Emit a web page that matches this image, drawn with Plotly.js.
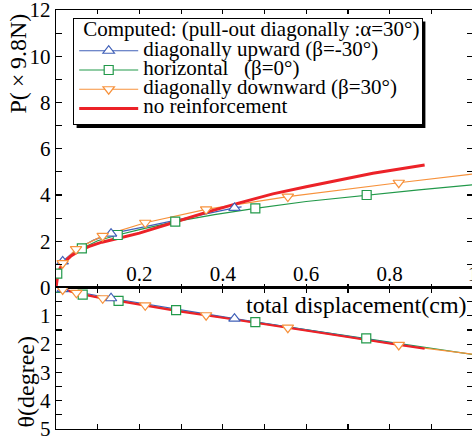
<!DOCTYPE html>
<html><head><meta charset="utf-8">
<script src="https://cdn.plot.ly/plotly-3.0.1.min.js"></script>
<style>html,body{margin:0;padding:0;overflow:hidden;background:#fff}#chart{width:474px;height:438px}</style>
</head><body><div id="chart"></div>
<script>
// ---------- data ----------
// top panel: pull-out load P (x9.8N) vs total displacement (cm)
const dispRedP = [0, 0.004, 0.01, 0.02, 0.035, 0.055, 0.08, 0.11, 0.15, 0.2, 0.28, 0.36, 0.44, 0.52, 0.6, 0.68, 0.76, 0.884];
const pRed     = [0, 0.5, 0.85, 1.1, 1.35, 1.58, 1.78, 1.96, 2.13, 2.35, 2.8, 3.25, 3.66, 4.05, 4.36, 4.65, 4.94, 5.30];
const dispBlueP = [0, 0.004, 0.016, 0.05, 0.09, 0.132, 0.2, 0.3, 0.428, 0.445];
const pBlue     = [0, 0.55, 1.13, 1.65, 2.05, 2.33, 2.58, 2.97, 3.44, 3.49];
const dispBlueMkP = [0.016, 0.132, 0.428];
const pBlueMk     = [1.13, 2.33, 3.44];
const dispGreenP = [0, 0.003, 0.02, 0.062, 0.1, 0.148, 0.2, 0.286, 0.38, 0.478, 0.6, 0.745, 0.87, 1.0];
const pGreen     = [0, 0.6, 1.15, 1.69, 2.02, 2.27, 2.5, 2.85, 3.15, 3.42, 3.72, 4.0, 4.22, 4.44];
const dispGreenMkP = [0.003, 0.062, 0.148, 0.286, 0.478, 0.745];
const pGreenMk     = [0.6, 1.69, 2.27, 2.85, 3.42, 4.0];
const dispOrangeP = [0, 0.004, 0.016, 0.048, 0.112, 0.214, 0.36, 0.556, 0.822, 1.0];
const pOrange     = [0, 0.55, 1.05, 1.66, 2.23, 2.80, 3.38, 3.93, 4.53, 4.91];
const dispOrangeMkP = [0.016, 0.048, 0.112, 0.214, 0.36, 0.556, 0.822];
const pOrangeMk     = [1.05, 1.66, 2.23, 2.80, 3.38, 3.93, 4.53];

// bottom panel: rotation angle theta (degree) vs total displacement (cm)
const dispRedT = [0, 0.02, 0.05, 0.1, 0.2, 0.3, 0.4, 0.5, 0.6, 0.7, 0.8, 0.884];
const tRed     = [0, 0.09, 0.2, 0.35, 0.6, 0.85, 1.07, 1.29, 1.52, 1.75, 1.98, 2.16];
const dispBlueT = [0, 0.016, 0.132, 0.428, 0.884];
const tBlue     = [0, 0.06, 0.38, 1.1, 2.14];
const dispBlueMkT = [0.016, 0.132, 0.428];
const tBlueMk     = [0.06, 0.38, 1.1];
const dispGreenT = [0, 0.003, 0.064, 0.15, 0.288, 0.478, 0.744, 1.0];
const tGreen     = [0, 0.01, 0.25, 0.47, 0.8, 1.22, 1.8, 2.37];
const dispGreenMkT = [0.003, 0.064, 0.15, 0.288, 0.478, 0.744];
const tGreenMk     = [0.01, 0.25, 0.47, 0.8, 1.22, 1.8];
const dispOrangeT = [0, 0.016, 0.049, 0.112, 0.214, 0.36, 0.556, 0.822, 1.0];
const tOrange     = [0, 0.07, 0.19, 0.38, 0.63, 0.98, 1.42, 2.03, 2.36];
const dispOrangeMkT = [0.016, 0.049, 0.112, 0.214, 0.36, 0.556, 0.822];
const tOrangeMk     = [0.07, 0.19, 0.38, 0.63, 0.98, 1.42, 2.03];

// tick labels and texts
const xTickVals = [0, 0.1, 0.2, 0.3, 0.4, 0.5, 0.6, 0.7, 0.8, 0.9, 1.0];
const xTickText = ['', '', '0.2', '', '0.4', '', '0.6', '', '0.8', '', '1'];
const pTickVals = [0, 1, 2, 3, 4, 5, 6, 7, 8, 9, 10, 11, 12];
const pTickText = ['0', '', '2', '', '4', '', '6', '', '8', '', '10', '', '12'];
const tTickVals = [0, 0.5, 1, 1.5, 2, 2.5, 3, 3.5, 4, 4.5, 5];
const tTickText = ['', '', '1', '', '2', '', '3', '', '4', '', '5'];
const legendTitle = '\u2004Computed: (pull-out diagonally :α=30°)';
const names = ['diagonally upward (β=-30°)', 'horizontal\u2002 (β=0°)', 'diagonally downward (β=30°)', 'no reinforcement'];

// ---------- styling ----------
const FONT = 'Liberation Serif';
const BLUE = '#4060b8', GREEN = '#22994a', ORANGE = '#f7923c', RED = '#ec2228';
const THIN = 1.2, THICK = 3;
const TRI = 10, SQ = 9;
const LEGFS = '21px';
const span = t => '<span style="font-size:' + LEGFS + '">' + t + '</span>';
function lineTr(x, y, color, w, xa, ya) {
  return {x: x, y: y, xaxis: xa, yaxis: ya, mode: 'lines', line: {color: color, width: w}, showlegend: false, hoverinfo: 'skip'};
}
function mkTr(x, y, color, sym, size, xa, ya) {
  return {x: x, y: y, xaxis: xa, yaxis: ya, mode: 'markers',
          marker: {symbol: sym, size: size, color: '#fff', line: {color: color, width: THIN}}, showlegend: false, hoverinfo: 'skip'};
}
function legTr(name, color, sym, size, w) {
  const t = {x: [null], y: [null], xaxis: 'x', yaxis: 'y', name: span(name),
             mode: sym ? 'lines+markers' : 'lines', line: {color: color, width: w}, showlegend: true};
  if (sym) t.marker = {symbol: sym, size: size, color: '#fff', line: {color: color, width: THIN}};
  return t;
}
const traces = [
  lineTr(dispGreenP, pGreen, GREEN, THIN, 'x', 'y'),
  lineTr(dispBlueP, pBlue, BLUE, THIN, 'x', 'y'),
  lineTr(dispOrangeP, pOrange, ORANGE, THIN, 'x', 'y'),
  lineTr(dispRedP, pRed, RED, THICK, 'x', 'y'),
  lineTr(dispGreenT, tGreen, GREEN, THIN, 'x2', 'y2'),
  lineTr(dispBlueT, tBlue, BLUE, THIN, 'x2', 'y2'),
  lineTr(dispOrangeT, tOrange, ORANGE, THIN, 'x2', 'y2'),
  lineTr(dispRedT, tRed, RED, 2.2, 'x2', 'y2'),
  mkTr(dispGreenMkP, pGreenMk, GREEN, 'square', SQ, 'x', 'y'),
  mkTr(dispBlueMkP, pBlueMk, BLUE, 'triangle-up', TRI, 'x', 'y'),
  mkTr(dispOrangeMkP, pOrangeMk, ORANGE, 'triangle-down', TRI, 'x', 'y'),
  mkTr(dispGreenMkT, tGreenMk, GREEN, 'square', SQ, 'x2', 'y2'),
  mkTr(dispBlueMkT, tBlueMk, BLUE, 'triangle-up', TRI, 'x2', 'y2'),
  mkTr(dispOrangeMkT, tOrangeMk, ORANGE, 'triangle-down', TRI, 'x2', 'y2'),
  legTr(names[0], BLUE, 'triangle-up', TRI, THIN),
  legTr(names[1], GREEN, 'square', SQ, THIN),
  legTr(names[2], ORANGE, 'triangle-down', TRI, THIN),
  legTr(names[3], RED, null, 0, THICK)
];

// pixel geometry (plot area x 56..473, y 10..429)
const L = 56, T = 10, W = 417, H = 419;
const px = v => (v - L) / W;
const py = v => (T + H - v) / H;
const split = py(287.5);
const tickFont = {family: FONT, size: 21, color: '#000'};
const axBase = {showline: true, linecolor: '#000', linewidth: 1.2, ticks: 'inside', tickcolor: '#000',
                tickwidth: 1.2, mirror: 'ticks', showgrid: false, zeroline: false, tickfont: tickFont,
                fixedrange: true, ticklabeloverflow: 'allow'};
const layout = {
  width: 474, height: 438,
  margin: {l: L, r: 474 - L - W, t: T, b: 438 - T - H},
  paper_bgcolor: '#fff', plot_bgcolor: '#fff',
  font: {family: FONT, color: '#000'},
  showlegend: true,
  xaxis: Object.assign({}, axBase, {domain: [0, 1], anchor: 'y', range: [0, 1], tickmode: 'array',
          tickvals: xTickVals, ticktext: xTickText, ticklen: 4, ticklabelposition: 'inside'}),
  xaxis2: Object.assign({}, axBase, {domain: [0, 1], anchor: 'y2', matches: 'x', range: [0, 1],
          tickmode: 'array', tickvals: xTickVals, ticktext: xTickText, ticklen: 5, showticklabels: false}),
  yaxis: Object.assign({}, axBase, {domain: [split, 1], anchor: 'x', range: [0, 12], tickmode: 'array',
          tickvals: pTickVals, ticktext: pTickText, ticklen: 6}),
  yaxis2: Object.assign({}, axBase, {domain: [0, split], anchor: 'x2', range: [5, 0], autorange: false,
          tickmode: 'array', tickvals: tTickVals, ticktext: tTickText, ticklen: 6}),
  legend: {x: px(73), y: py(18), xanchor: 'left', yanchor: 'top', bgcolor: '#fff', bordercolor: '#000',
           borderwidth: 1.2, itemwidth: 59, font: {family: FONT, size: 12.5, color: '#000'},
           title: {text: span(legendTitle), font: {family: FONT, size: 13, color: '#000'}}},
  annotations: [
    {text: 'P(\u2009×\u20099.8N)', xref: 'paper', yref: 'paper', x: px(17.5), y: py(64), textangle: -90,
     xanchor: 'center', yanchor: 'middle', showarrow: false, font: {family: FONT, size: 24, color: '#000'}},
    {text: 'θ(degree)', xref: 'paper', yref: 'paper', x: px(25), y: py(382.5), textangle: -90,
     xanchor: 'center', yanchor: 'middle', showarrow: false, font: {family: FONT, size: 24, color: '#000'}},
    {text: 'total displacement(cm)', xref: 'paper', yref: 'paper', x: px(469), y: py(305),
     xanchor: 'right', yanchor: 'middle', showarrow: false, font: {family: FONT, size: 24, color: '#000'}}
  ]
};
const gd = document.getElementById('chart');
Plotly.newPlot(gd, traces, layout, {displayModeBar: false, staticPlot: true}).then(() => {
  // drop shadow behind the legend box, offset 3px right and down
  const r = gd.querySelector('.legend .bg').getBoundingClientRect();
  const sh = {type: 'rect', xref: 'paper', yref: 'paper', layer: 'below',
              x0: px(r.left + 3), x1: px(r.right + 3), y0: py(r.bottom + 3.5), y1: py(r.top + 3),
              fillcolor: '#000', line: {width: 0}};
  return Plotly.relayout(gd, {shapes: [sh]});
});
</script></body></html>
